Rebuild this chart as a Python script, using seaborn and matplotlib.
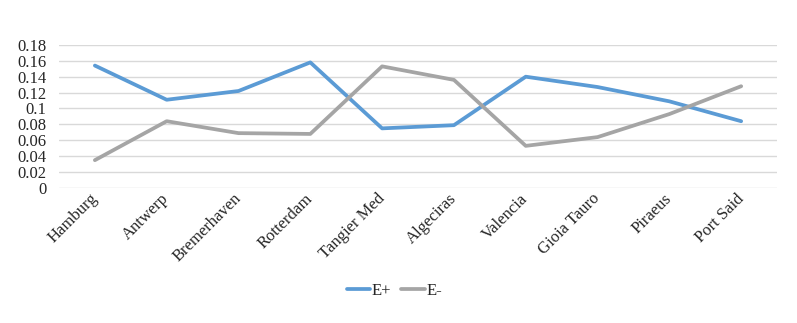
import pandas as pd
import matplotlib.pyplot as plt
import seaborn as sns

ports = ["Hamburg", "Antwerp", "Bremerhaven", "Rotterdam", "Tangier Med",
         "Algeciras", "Valencia", "Gioia Tauro", "Piraeus", "Port Said"]
e_plus = [0.154, 0.111, 0.122, 0.158, 0.075, 0.079, 0.140, 0.127, 0.109, 0.084]
e_minus = [0.035, 0.084, 0.069, 0.068, 0.153, 0.136, 0.053, 0.064, 0.093, 0.128]

data = pd.concat([
    pd.DataFrame({"port": ports, "value": e_plus, "serie": "E+"}),
    pd.DataFrame({"port": ports, "value": e_minus, "serie": "E-"}),
])

sns.set_style("white")
plt.rcParams["font.family"] = ["Liberation Serif", "DejaVu Serif"]

fig = plt.figure(figsize=(7.97, 3.23), dpi=100)
ax = fig.add_axes([0.074, 0.418, 0.901, 0.443])

sns.lineplot(data=data, x="port", y="value", hue="serie", sort=False,
             palette={"E+": "#5B9BD5", "E-": "#A5A5A5"}, linewidth=2.7,
             ax=ax, legend=True)

ax.set_xlim(-0.5, len(ports) - 0.5)
ax.set_ylim(0, 0.18)
ticks = [i * 0.02 for i in range(10)]
ax.set_yticks(ticks)
ax.set_yticklabels(["0" if t == 0 else f"{t:.2f}".rstrip("0") for t in ticks], fontsize=12)
ax.yaxis.grid(True, color="#D9D9D9", linewidth=1)
ax.set_axisbelow(True)
for s in ax.spines.values():
    s.set_visible(False)
ax.tick_params(axis="y", length=0, pad=9)
ax.tick_params(axis="x", length=0, pad=6)
plt.setp(ax.get_xticklabels(), rotation=45, ha="right", va="center",
         rotation_mode="anchor", fontsize=12)
ax.set_xlabel("")
ax.set_ylabel("")

ax.legend(loc="center", bbox_to_anchor=(0.467, -0.72), ncol=2, frameon=False,
          fontsize=12, handlelength=1.4, columnspacing=0.6, handletextpad=0.1)

fig.savefig("out.png", dpi=100)
